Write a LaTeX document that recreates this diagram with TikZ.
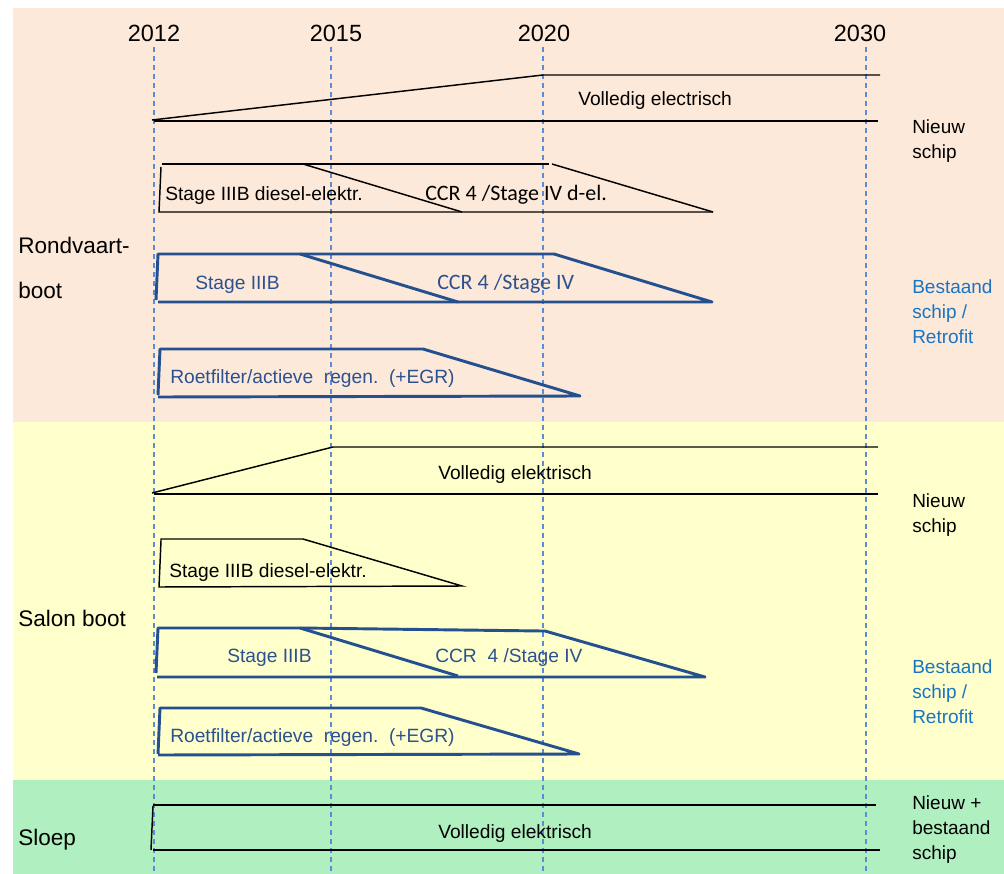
\documentclass[tikz,border=0pt]{standalone}
\usepackage{fontspec}
\setmainfont{Liberation Sans}
\newfontfamily\calibri{Carlito}
\usetikzlibrary{positioning}
\definecolor{rosebg}{HTML}{FDE9D9}
\definecolor{yellowbg}{HTML}{FFFFCC}
\definecolor{greenbg}{HTML}{B0F0C0}
\definecolor{barblue}{HTML}{24508F}
\definecolor{textblue}{HTML}{2C5190}
\definecolor{labelblue}{HTML}{1A74C4}
\definecolor{gridblue}{HTML}{5B8CD4}

\begin{document}
\begin{tikzpicture}
  [x=0.75pt, y=-0.75pt,
   year/.style={font=\fontsize{17.6}{20}\selectfont, anchor=base, inner sep=0pt},
   grid/.style={gridblue, line width=0.8pt, dash pattern=on 3.75pt off 3pt},
   plain/.style={black, line width=1.1pt},
   retro/.style={barblue, line width=2.2pt, line join=round},
   txt/.style={font=\fontsize{14.4}{18}\selectfont, anchor=base west, inner sep=0pt},
   ctxt/.style={font=\calibri\fontsize{16.5}{18}\selectfont, anchor=base west, inner sep=0pt},
   boat/.style={font=\fontsize{16.9}{33.75}\selectfont, anchor=base west, align=left, inner sep=0pt},
   side/.style={font=\fontsize{14.25}{18.75}\selectfont, anchor=base west, align=left, inner sep=0pt}]
  \useasboundingbox (0,0) rectangle (1004,874);
  \fill[white] (0,0) rectangle (1004,874);
  \fill[rosebg] (13,8) rectangle (1004,422);
  \fill[yellowbg] (13,422) rectangle (1004,780);
  \fill[greenbg] (13,780) rectangle (1004,874);

  % years
  \foreach \x/\lx/\yr in {154/154/2012, 331/336/2015, 543/544/2020, 866/860/2030}{
    \node[year] (y\yr) at (\lx, 42) {\yr};
    \draw[grid] (\x, 47) -- (\x, 874);
  }

  % Rondvaartboot (base = last line)
  \node[boat] (rv) at (18, 298) {Rondvaart-\\boot};
  \draw[plain] (152,120) -- (543,75) -- (880,75);
  \draw[plain] (154,121) -- (878,121);
  \node[txt] (volrv) at (578,106) {Volledig electrisch};
  \node[side] (nwrv) at (912,158) {Nieuw\\schip};

  \draw[plain] (162,164) -- (549,164);
  \draw[plain] (161,167) -- (159,212) -- (713,212);
  \draw[plain] (303,164) -- (462,212);
  \draw[plain] (552,164) -- (713,212);
  \node[txt] (derv) at (165,200) {Stage IIIB\ diesel-elektr.};
  \node[ctxt] (ccrdrv) at (425,200) {CCR 4 /Stage IV d-el.};

  \draw[retro] (156,300) -- (158,254) -- (554,254) -- (712,302) -- (158,302);
  \draw[retro] (300,254) -- (458,302);
  \node[txt, textblue] (strv) at (195,289) {Stage\ IIIB};
  \node[ctxt, textblue] (ccrrv) at (437,289) {CCR 4 /Stage IV};

  \draw[retro] (158,395) -- (160,349) -- (423,349) -- (580,396) -- (158,397);
  \node[txt, textblue] (rfrv) at (170,383) {Roetfilter/actieve\ \ regen.\ \ (+EGR)};
  \node[side, labelblue] (btrv) at (912,343) {Bestaand\\schip /\\Retrofit};

  % Salon boot
  \node[boat] (sb) at (18, 626) {Salon boot};
  \draw[plain] (152,493) -- (333,447) -- (878,447);
  \draw[plain] (154,494) -- (878,494);
  \node[txt] (volsb) at (438,479) {Volledig elektrisch};
  \node[side] (nwsb) at (912,532) {Nieuw\\schip};

  \draw[plain] (161,541) -- (161,539) -- (303,539) -- (462,586) -- (159,587) -- (161,541);
  \node[txt] (desb) at (169,577) {Stage IIIB\ diesel-elektr.};

  \draw[retro] (156,673) -- (158,628) -- (300,628) -- (542,631) -- (545,631) -- (705,677) -- (157,677);
  \draw[retro] (300,628) -- (458,676);
  \node[txt, textblue] (stsb) at (227,662) {Stage\ IIIB};
  \node[txt, textblue] (ccrsb) at (435,662) {CCR\ \ 4 /Stage IV};

  \draw[retro] (158,754) -- (160,708) -- (421,708) -- (579,754) -- (158,755);
  \node[txt, textblue] (rfsb) at (170,742) {Roetfilter/actieve\ \ regen.\ \ (+EGR)};
  \node[side, labelblue] (btsb) at (912,723) {Bestaand\\schip /\\Retrofit};

  % Sloep
  \node[boat] (sl) at (18, 845) {Sloep};
  \draw[plain] (153,805) -- (876,805);
  \draw[plain] (153,806) -- (151,850);
  \draw[plain] (153,850) -- (880,850);
  \node[txt] (volsl) at (438,838) {Volledig elektrisch};
  \node[side] (nwsl) at (912,859) {Nieuw +\\bestaand\\schip};
\end{tikzpicture}
\end{document}
